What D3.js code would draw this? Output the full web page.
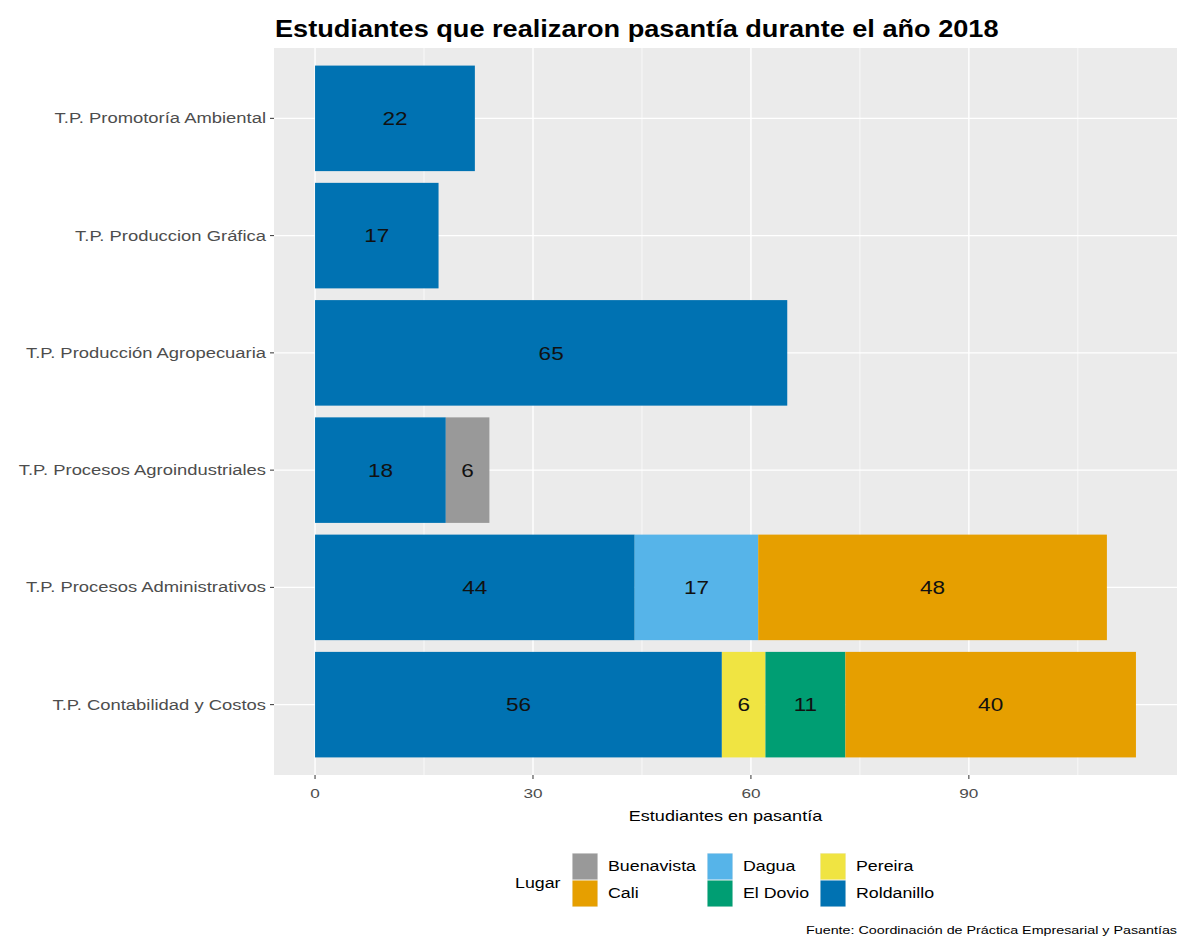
<!DOCTYPE html>
<html><head><meta charset="utf-8">
<script src="https://cdn.jsdelivr.net/npm/d3@7"></script>
<style>body{margin:0;background:#fff}svg{display:block;font-family:"Liberation Sans",Arial,sans-serif}</style>
</head><body><svg id="c" width="1185" height="945"></svg>
<script>
// Categories (bottom to top as drawn)
const categories = ["T.P. Contabilidad y Costos","T.P. Procesos Administrativos","T.P. Procesos Agroindustriales","T.P. Producción Agropecuaria","T.P. Produccion Gráfica","T.P. Promotoría Ambiental"];
const places = ["Buenavista","Cali","Dagua","El Dovio","Pereira","Roldanillo"];
const placeColors = ["#999999","#E69F00","#56B4E9","#009E73","#F0E442","#0072B2"];
// values per place, aligned with categories
const buenavista = [0,0,6,0,0,0];
const cali       = [40,48,0,0,0,0];
const dagua      = [0,17,0,0,0,0];
const elDovio    = [11,0,0,0,0,0];
const pereira    = [6,0,0,0,0,0];
const roldanillo = [56,44,18,65,17,22];
const xTicks = [0,30,60,90];
const xMinor = [15,45,75,105];

const seriesByPlace = {"Buenavista":buenavista,"Cali":cali,"Dagua":dagua,"El Dovio":elDovio,"Pereira":pereira,"Roldanillo":roldanillo};
const stackOrder = places.slice().reverse();

const svg = d3.select("#c");
const P = {l:274, r:1177, t:48, b:775};
const totals = categories.map((c,i)=>places.reduce((s,p)=>s+seriesByPlace[p][i],0));
const maxT = d3.max(totals);
const pad = maxT*0.05;
const x = d3.scaleLinear().domain([-pad, maxT+pad]).range([P.l,P.r]);
const unit = (P.b-P.t)/(categories.length-1+1.2);
const y = d3.scaleLinear().domain([-0.6, categories.length-1+0.6]).range([P.b,P.t]);
const yc = c => y(categories.indexOf(c));
const bh = 0.9*unit;

const K = 1.27;
function txt(parent, px, py, str, opts){
  const k = opts.k || K;
  const t = parent.append("text")
    .attr("transform",`translate(${px},${py}) scale(${k},1)`)
    .attr("font-size",opts.size).attr("fill",opts.fill||"#000")
    .attr("text-anchor",opts.anchor||"start")
    .text(str);
  if(opts.dy) t.attr("dy",opts.dy);
  if(opts.weight) t.attr("font-weight",opts.weight);
  return t;
}

svg.append("rect").attr("x",P.l).attr("y",P.t).attr("width",P.r-P.l).attr("height",P.b-P.t).attr("fill","#EBEBEB");
svg.selectAll(".mn").data(xMinor).join("line").attr("x1",d=>x(d)).attr("x2",d=>x(d)).attr("y1",P.t).attr("y2",P.b).attr("stroke","#fff").attr("stroke-width",0.7);
svg.selectAll(".mj").data(xTicks).join("line").attr("x1",d=>x(d)).attr("x2",d=>x(d)).attr("y1",P.t).attr("y2",P.b).attr("stroke","#fff").attr("stroke-width",1.4);
svg.selectAll(".hg").data(categories).join("line").attr("x1",P.l).attr("x2",P.r).attr("y1",d=>yc(d)).attr("y2",d=>yc(d)).attr("stroke","#fff").attr("stroke-width",1.4);

const segs = [];
categories.forEach((c,i)=>{
  let acc=0;
  stackOrder.forEach(p=>{
    const v = seriesByPlace[p][i];
    if(v>0){ segs.push({c, p, v, x0:acc, x1:acc+v}); acc+=v; }
  });
});
svg.selectAll(".bar").data(segs).join("rect")
  .attr("x",d=>x(d.x0)).attr("width",d=>x(d.x1)-x(d.x0))
  .attr("y",d=>yc(d.c)-bh/2).attr("height",bh)
  .attr("fill",d=>placeColors[places.indexOf(d.p)]);
const lblG = svg.append("g");
segs.forEach(d=>txt(lblG, x((d.x0+d.x1)/2), yc(d.c), d.v, {size:18.5, anchor:"middle", dy:"0.36em", fill:"#111", k:1.22}));

const ax = svg.append("g");
xTicks.forEach(t=>{
  ax.append("line").attr("x1",x(t)).attr("x2",x(t)).attr("y1",P.b).attr("y2",P.b+4).attr("stroke","#333").attr("stroke-width",1);
  txt(ax, x(t), P.b+23, t, {size:13.5, anchor:"middle", fill:"#4D4D4D"});
});
categories.forEach(c=>{
  ax.append("line").attr("x1",P.l-4).attr("x2",P.l).attr("y1",yc(c)).attr("y2",yc(c)).attr("stroke","#333").attr("stroke-width",1);
  txt(ax, P.l-8, yc(c), c, {size:14.5, anchor:"end", dy:"0.35em", fill:"#4D4D4D"});
});
txt(svg, (P.l+P.r)/2, 821, "Estudiantes en pasantía", {size:14.2, anchor:"middle"});
txt(svg, P.l+1, 37, "Estudiantes que realizaron pasantía durante el año 2018", {size:23, weight:"bold", k:1.18});

const lg = svg.append("g");
txt(lg, 515, 883, "Lugar", {size:14, dy:"0.35em"});
const colX = [572,707,820], rowY=[853,880], kw=26, kh=27;
places.forEach((p,i)=>{
  const cx = colX[Math.floor(i/2)], ry = rowY[i%2];
  lg.append("rect").attr("x",cx).attr("y",ry).attr("width",kw).attr("height",kh).attr("fill","#F2F2F2");
  lg.append("rect").attr("x",cx+0.5).attr("y",ry+0.5).attr("width",kw-1).attr("height",kh-1).attr("fill",placeColors[i]);
  txt(lg, cx+kw+10, ry+kh/2, p, {size:14, dy:"0.35em"});
});
txt(svg, 1177, 934, "Fuente: Coordinación de Práctica Empresarial y Pasantías", {size:11, anchor:"end", k:1.3});
</script></body></html>
